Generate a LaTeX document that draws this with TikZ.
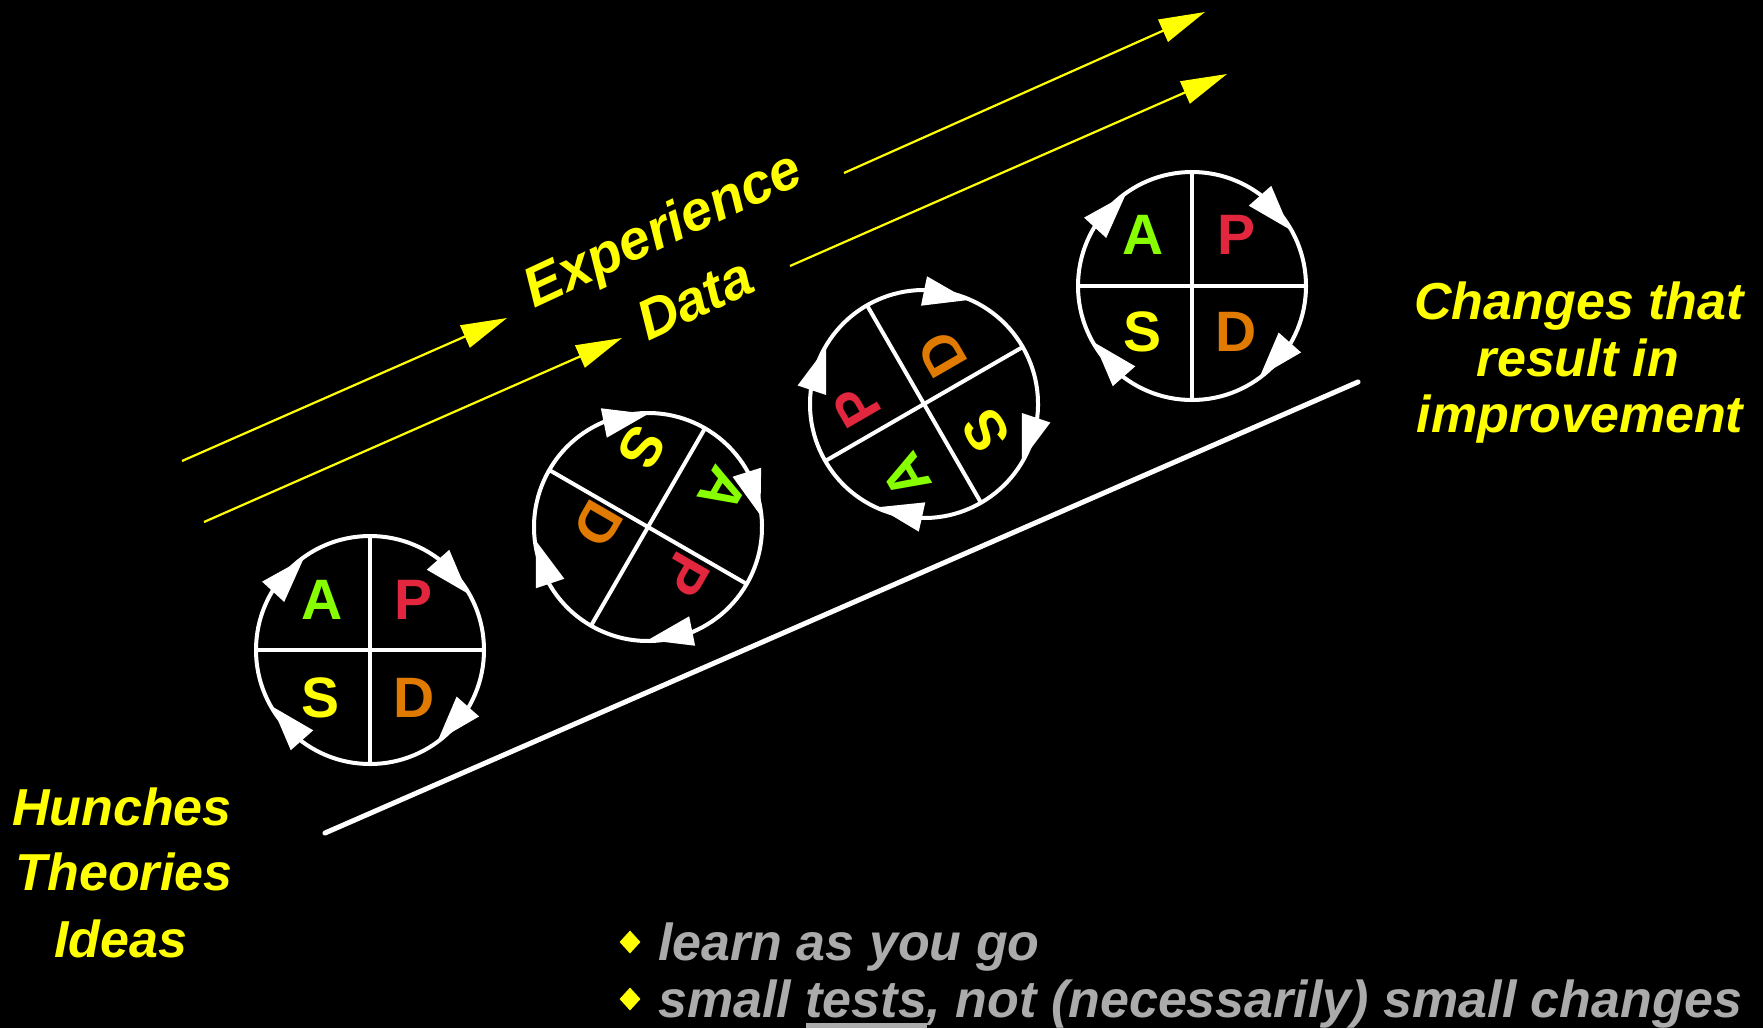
\documentclass[tikz,border=0pt]{standalone}
\usepackage{fontspec}
\setmainfont{Liberation Sans}
\usetikzlibrary{arrows.meta,shapes.geometric}
\definecolor{ylw}{HTML}{FFFF00}
\definecolor{pdsgreen}{HTML}{88FF00}
\definecolor{pdsred}{HTML}{E2263E}
\definecolor{pdsorange}{HTML}{E07A00}
\definecolor{greytxt}{HTML}{ABABAB}
\newcommand\cyarrow[1]{\fill[white,rotate=#1] (127.7pt,-3.0pt) -- (104.0pt,-44.2pt) -- (98.3pt,3.0pt) -- cycle;}
\newcommand\pdsring[3]{%
  \node[ringnode,rotate=#3] (#1) at #2 {};
  \draw[ring] (#1.west) -- (#1.east) (#1.north) -- (#1.south);
  \begin{scope}[shift={#2},rotate=#3]
    \cyarrow{149}\cyarrow{53}\cyarrow{-30}\cyarrow{233}
  \end{scope}}
\newcommand\ulx[1]{\setbox0\hbox{#1}\rlap{\rule[-11pt]{\wd0}{5pt}}\box0}
\begin{document}
\begin{tikzpicture}[x=1pt,y=-1pt,
  lbl/.style={font=\fontsize{52}{60}\selectfont\bfseries\itshape, text=ylw, inner sep=0pt, anchor=base},
  biglbl/.style={font=\fontsize{56}{60}\selectfont\bfseries\itshape, text=ylw, inner sep=0pt, anchor=center, rotate=25},
  gtxt/.style={font=\fontsize{52}{60}\selectfont\bfseries\itshape, text=greytxt, inner sep=0pt, anchor=base west},
  ltr/.style={font=\fontsize{57}{60}\selectfont\bfseries, inner sep=0pt},
  ring/.style={draw=white, line width=4pt},
  ringnode/.style={circle, draw=white, line width=4pt, minimum size=228pt, inner sep=0pt, outer sep=0pt},
  yarrow/.style={draw=ylw, line width=2.2pt, -{Triangle[length=46pt,width=24pt]}},
  bul/.style={diamond, fill=ylw, minimum width=21pt, minimum height=23pt, inner sep=0pt}
]
\fill[black] (0,0) rectangle (1763,1028);
\useasboundingbox (0,0) rectangle (1763,1028);

% ground line
\coordinate (g1) at (325,833);
\coordinate (g2) at (1358,382);
\draw[white, line width=5pt, line cap=round] (g1) -- (g2);

% yellow arrows
\coordinate (a1s) at (182,461); \coordinate (a1e) at (507,318);
\coordinate (a2s) at (204,522); \coordinate (a2e) at (622,338);
\coordinate (a3s) at (844,173); \coordinate (a3e) at (1205,12);
\coordinate (a4s) at (790,266); \coordinate (a4e) at (1227,74);
\draw[yarrow] (a1s) -- (a1e);
\draw[yarrow] (a2s) -- (a2e);
\draw[yarrow] (a3s) -- (a3e);
\draw[yarrow] (a4s) -- (a4e);

\node[biglbl] (exp) at (664,232) {Experience};
\node[biglbl] (data) at (695,299) {Data};

% PDSA cycles
\pdsring{ring1}{(370,650)}{0}
\pdsring{ring2}{(648,527)}{-120}
\pdsring{ring3}{(924,404)}{120}
\pdsring{ring4}{(1192,286)}{0}

% letters ring 1
\node[ltr, text=pdsgreen] (r1A) at (322,600) {A};
\node[ltr, text=pdsred] (r1P) at (414,600) {P};
\node[ltr, text=ylw] (r1S) at (321,698) {S};
\node[ltr, text=pdsorange] (r1D) at (414,698) {D};
% letters ring 2
\node[ltr, text=ylw, rotate=-120] (r2S) at (642,448) {S};
\node[ltr, text=pdsgreen, rotate=-120] (r2A) at (723,490) {A};
\node[ltr, text=pdsred, rotate=-120] (r2P) at (686,575) {P};
\node[ltr, text=pdsorange, rotate=-120] (r2D) at (598,524) {D};
% letters ring 3
\node[ltr, text=pdsorange, rotate=120] (r3D) at (942,354) {D};
\node[ltr, text=ylw, rotate=120] (r3S) at (986,431) {S};
\node[ltr, text=pdsgreen, rotate=120] (r3A) at (906,476) {A};
\node[ltr, text=pdsred, rotate=120] (r3P) at (857,406) {P};
% letters ring 4
\node[ltr, text=pdsgreen] (r4A) at (1143,235) {A};
\node[ltr, text=pdsred] (r4P) at (1236,235) {P};
\node[ltr, text=ylw] (r4S) at (1142,332) {S};
\node[ltr, text=pdsorange] (r4D) at (1236,332) {D};

% left labels
\node[lbl] (hun) at (122,825) {Hunches};
\node[lbl] (theo) at (124,890) {Theories};
\node[lbl] (ideas) at (121,957) {Ideas};

% right labels
\node[lbl] (chg) at (1579,319) {Changes that};
\node[lbl] (res) at (1578,376) {result in};
\node[lbl] (imp) at (1580,432) {improvement};

% bullets
\node[bul] (b1) at (630,942) {};
\node[bul] (b2) at (630,999) {};
\node[gtxt] (t1) at (658,960) {learn as you go};
\node[gtxt] (t2) at (658,1017) {small \ulx{tests}, not (necessarily) small changes};
\end{tikzpicture}
\end{document}
